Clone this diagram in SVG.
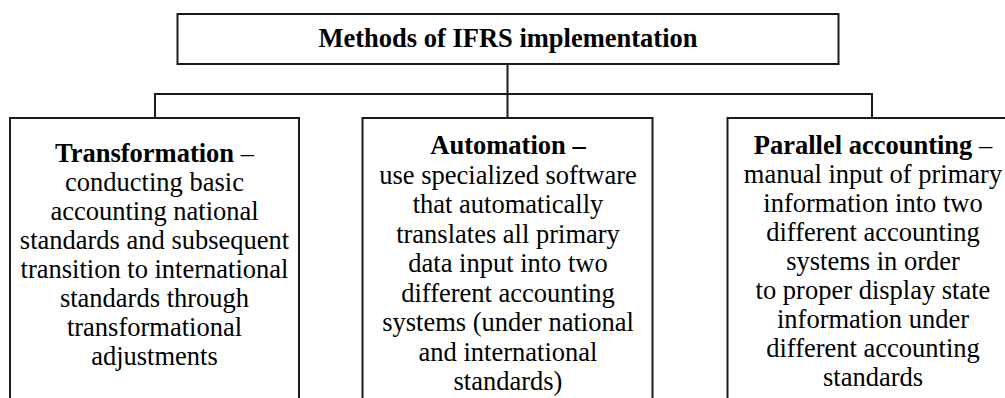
<svg xmlns="http://www.w3.org/2000/svg" width="1005" height="398" viewBox="0 0 1005 398">
<style>
.box{fill:#fff;stroke:#1a1a1a;stroke-width:2}
.ln{fill:none;stroke:#1a1a1a;stroke-width:2}
text{font-family:"Liberation Serif","Times New Roman",serif;font-size:26.5px;fill:#000;text-anchor:middle}
.b{font-weight:bold}
</style>
<rect width="1005" height="398" fill="#fff"/>
<g id="connectors">
<line class="ln" x1="507.5" y1="64" x2="507.5" y2="118"/>
<polyline class="ln" points="155,118 155,94 872,94 872,118"/>
</g>
<g id="title">
<rect class="box" x="177.5" y="14" width="661" height="50"/>
<text class="b" x="508" y="47">Methods of IFRS implementation</text>
</g>
<g id="transformation">
<rect class="box" x="10" y="118" width="289" height="300"/>
<text x="154.5" y="162"><tspan class="b">Transformation</tspan> –</text>
<text x="154.5" y="191">conducting basic</text>
<text x="154.5" y="220">accounting national</text>
<text x="154.5" y="249">standards and subsequent</text>
<text x="154.5" y="278">transition to international</text>
<text x="154.5" y="307">standards through</text>
<text x="154.5" y="336">transformational</text>
<text x="154.5" y="365">adjustments</text>
</g>
<g id="automation">
<rect class="box" x="362.5" y="118" width="290" height="300"/>
<text class="b" x="508" y="154">Automation –</text>
<text x="508" y="183.5">use specialized software</text>
<text x="508" y="213">that automatically</text>
<text x="508" y="242.5">translates all primary</text>
<text x="508" y="272">data input into two</text>
<text x="508" y="301.5">different accounting</text>
<text x="508" y="331">systems (under national</text>
<text x="508" y="360.5">and international</text>
<text x="508" y="390">standards)</text>
</g>
<g id="parallel">
<rect class="box" x="727.5" y="118" width="291" height="300"/>
<text x="873" y="154"><tspan class="b">Parallel accounting</tspan> –</text>
<text x="873" y="183">manual input of primary</text>
<text x="873" y="212">information into two</text>
<text x="873" y="241">different accounting</text>
<text x="873" y="270">systems in order</text>
<text x="873" y="299">to proper display state</text>
<text x="873" y="328">information under</text>
<text x="873" y="357">different accounting</text>
<text x="873" y="386">standards</text>
</g>
</svg>
